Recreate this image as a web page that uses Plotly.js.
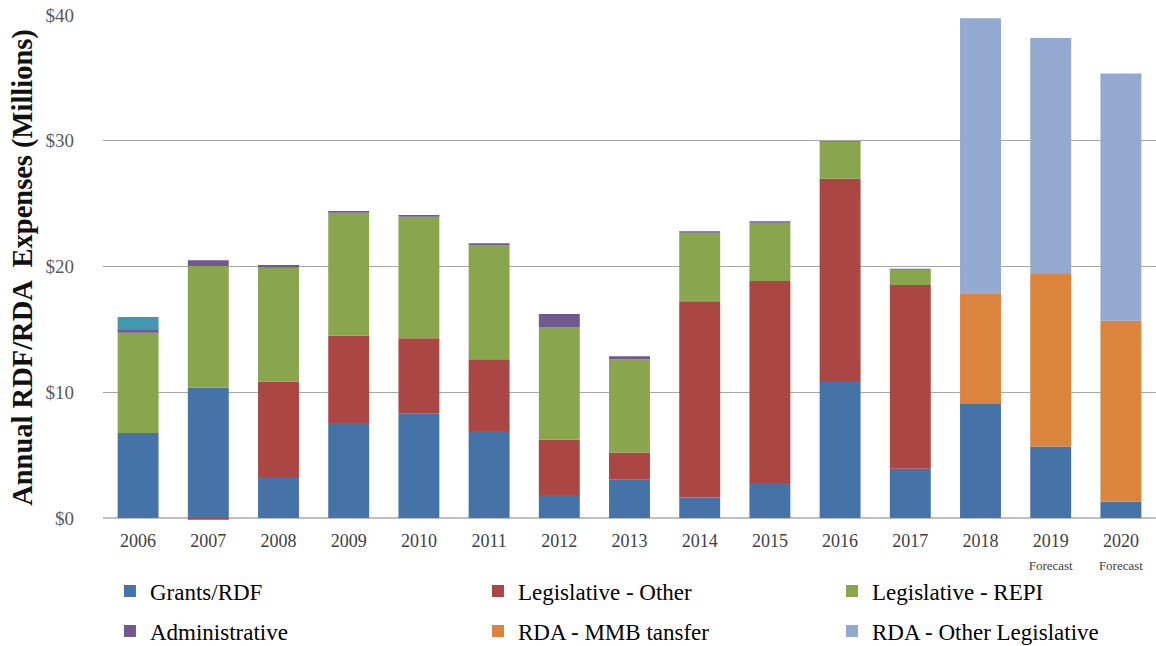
<!DOCTYPE html>
<html>
<head>
<meta charset="utf-8">
<script src="https://cdn.plot.ly/plotly-3.0.1.min.js"></script>
<style>html,body{margin:0;padding:0;background:#fff;}#chart{width:1156px;height:646px;}</style>
</head>
<body>
<div id="chart"></div>
<script>
const years = ["2006","2007","2008","2009","2010","2011","2012","2013","2014","2015","2016","2017","2018","2019","2020"];
const tickLabels = ["2006","2007","2008","2009","2010","2011","2012","2013","2014","2015","2016","2017","2018",
  "2019<br><span style='font-size:13px'>Forecast</span>","2020<br><span style='font-size:13px'>Forecast</span>"];
const yTickVals = [0, 10, 20, 30, 40];
const yTickText = ["$0", "$10", "$20", "$30", "$40"];
const grants      = [6.76, 10.36, 3.26, 7.55, 8.33, 6.92, 1.83, 3.08, 1.62, 2.78, 10.90, 3.91, 9.06, 5.68, 1.32];
const legOther    = [0, -0.15, 7.58, 6.95, 5.96, 5.70, 4.40, 2.12, 15.61, 16.07, 16.08, 14.62, 0, 0, 0];
const legREPI     = [7.98, 9.68, 9.06, 9.78, 9.67, 9.04, 8.96, 7.42, 5.46, 4.63, 2.95, 1.21, 0, 0, 0];
const admin       = [0.21, 0.46, 0.22, 0.13, 0.14, 0.18, 1.03, 0.24, 0.11, 0.11, 0.05, 0.08, 0, 0, 0];
const otherUnlabeled = [1.03, 0, 0, 0, 0, 0, 0, 0, 0, 0, 0, 0, 0, 0, 0];
const rdaMMB      = [0, 0, 0, 0, 0, 0, 0, 0, 0, 0, 0, 0, 8.82, 13.73, 14.36];
const rdaOtherLeg = [0, 0, 0, 0, 0, 0, 0, 0, 0, 0, 0, 0, 21.86, 18.77, 19.67];

function bar(name, y, color, legend, showlegend) {
  return {type:'bar', name:name, x:years, y:y, legend:legend, showlegend:showlegend,
    marker:{color:color, line:{width:0}}, hoverinfo:'x+y+name'};
}
const data = [
  bar('Grants/RDF', grants, '#4572A7', 'legend', true),
  bar('Legislative - Other', legOther, '#AA4643', 'legend2', true),
  bar('Legislative - REPI', legREPI, '#89A54E', 'legend3', true),
  bar('Administrative', admin, '#71588F', 'legend4', true),
  bar('Other', otherUnlabeled, '#4198AF', 'legend4', false),
  bar('RDA - MMB tansfer', rdaMMB, '#DB843D', 'legend5', true),
  bar('RDA - Other Legislative', rdaOtherLeg, '#93A9CF', 'legend6', true)
];
const serif = 'Liberation Serif, Times New Roman, serif';
function leg(x, y) {
  return {orientation:'h', xanchor:'left', yanchor:'middle', x:x, y:y, yref:'container',
    bgcolor:'rgba(0,0,0,0)', font:{family:serif, size:23, color:'#000'}};
}
const colX = [0.0066, 0.3561, 0.6923];
const rowY = [0.0851, 0.0232];
const layout = {
  width:1156, height:646,
  margin:{l:103, r:0, t:15, b:126},
  paper_bgcolor:'#fff', plot_bgcolor:'#fff',
  barmode:'relative', bargap:0.417,
  font:{family:serif},
  xaxis:{type:'category', tickmode:'array', tickvals:years, ticktext:tickLabels, showgrid:false, zeroline:false,
    showline:false, ticks:'', ticklabelstandoff:8, tickfont:{family:serif, size:18, color:'#404040'}},
  yaxis:{range:[-0.16, 40], tickmode:'array', tickvals:yTickVals, ticktext:yTickText, showgrid:true,
    gridcolor:'#a6a6a6', gridwidth:1, zeroline:true, zerolinecolor:'#c0c0c0', zerolinewidth:2,
    ticks:'', ticklabelstandoff:28, tickfont:{family:serif, size:19, color:'#595959'},
    title:{text:'Annual RDF/RDA  Expenses (Millions)\u00a0\u00a0\u00a0\u00a0\u00a0\u00a0', font:{family:serif, size:28.5, color:'#111', weight:'bold'}, standoff:4}},
  legend:leg(colX[0], rowY[0]),
  legend2:leg(colX[1], rowY[0]),
  legend3:leg(colX[2], rowY[0]),
  legend4:leg(colX[0], rowY[1]),
  legend5:leg(colX[1], rowY[1]),
  legend6:leg(colX[2], rowY[1]),
  showlegend:true
};
Plotly.newPlot('chart', data, layout, {displayModeBar:false, staticPlot:true});
</script>
</body>
</html>
